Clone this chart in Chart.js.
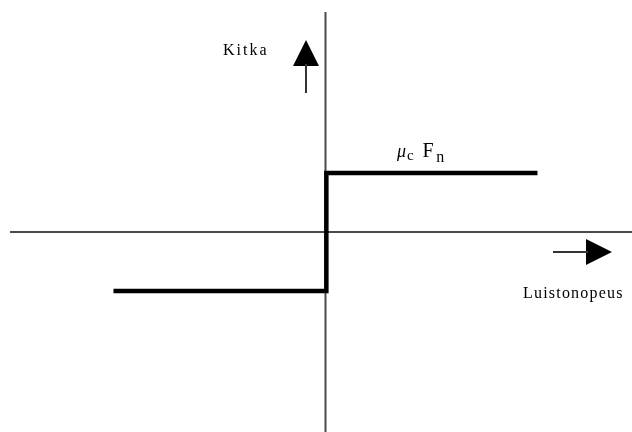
<!DOCTYPE html>
<html>
<head>
<meta charset="utf-8">
<script src="https://cdn.jsdelivr.net/npm/chart.js@4/dist/chart.umd.min.js"></script>
<style>
  html, body { margin: 0; padding: 0; background: #ffffff; }
  #wrap { width: 632px; height: 432px; }
</style>
</head>
<body>
<div id="wrap"><canvas id="c" width="632" height="432"></canvas></div>
<script>
// ---- data (units: x = sliding speed, y = friction; mu_c*F_n = 1) ----
const frictionX = [-1, 0.004, 0.004, 1];
const frictionY = [-1, -1, 1, 1];
const xAxisX = [-1.488, 1.446];
const xAxisY = [0, 0];
const yAxisX = [0, 0];
const yAxisY = [3.73, -3.39];
const upShaftX = [-0.092, -0.092];
const upShaftY = [2.356, 2.85];
const upHeadX = [-0.092];
const upHeadY = [3.034];
const rightShaftX = [1.073, 1.24];
const rightShaftY = [-0.339, -0.339];
const rightHeadX = [1.290];
const rightHeadY = [-0.339];
const labelY = 'Kitka';
const labelX = 'Luistonopeus';
const labelLevel = ['\u03BC', 'c', 'F', 'n'];

const xMin = -1.5354, xMax = 1.4458, yMin = -3.39, yMax = 3.932;

function pts(xs, ys) { return xs.map((x, i) => ({ x: x, y: ys[i] })); }

// arrow head image used as point style
function headImage() {
  const c = document.createElement('canvas');
  c.width = 26; c.height = 26;
  const g = c.getContext('2d');
  g.fillStyle = '#000';
  g.beginPath();
  g.moveTo(13, 0); g.lineTo(26, 26); g.lineTo(0, 26); g.closePath();
  g.fill();
  return c;
}
const head = headImage();

const labelPlugin = {
  id: 'labels',
  afterDatasetsDraw(chart) {
    const ctx = chart.ctx;
    const xs = chart.scales.x, ys = chart.scales.y;
    ctx.save();
    ctx.fillStyle = '#000';
    ctx.textBaseline = 'alphabetic';
    ctx.textAlign = 'left';
    if ('letterSpacing' in ctx) ctx.letterSpacing = '1.2px';
    ctx.font = '16px "Liberation Serif", "Times New Roman", serif';
    if ('letterSpacing' in ctx) ctx.letterSpacing = '2px';
    ctx.fillText(labelY, xs.getPixelForValue(-0.4835), ys.getPixelForValue(3.0));
    if ('letterSpacing' in ctx) ctx.letterSpacing = '1.2px';
    ctx.fillText(labelX, xs.getPixelForValue(0.9316), ys.getPixelForValue(-1.119));
    if ('letterSpacing' in ctx) ctx.letterSpacing = '0px';
    // mu_c F_n
    ctx.font = 'italic 18px "Liberation Serif", "Times New Roman", serif';
    ctx.fillText(labelLevel[0], xs.getPixelForValue(0.337), ys.getPixelForValue(1.271));
    ctx.font = '15px "Liberation Serif", "Times New Roman", serif';
    ctx.fillText(labelLevel[1], xs.getPixelForValue(0.384), ys.getPixelForValue(1.22));
    ctx.font = '20px "Liberation Serif", "Times New Roman", serif';
    ctx.fillText(labelLevel[2], xs.getPixelForValue(0.458), ys.getPixelForValue(1.271));
    ctx.font = '16px "Liberation Serif", "Times New Roman", serif';
    ctx.fillText(labelLevel[3], xs.getPixelForValue(0.522), ys.getPixelForValue(1.186));
    ctx.restore();
  }
};

const axisStyle = { borderColor: '#4a4a4a', borderWidth: 2, pointRadius: 0, showLine: true, clip: false };
const shaftStyle = { borderColor: '#333333', borderWidth: 2, pointRadius: 0, showLine: true, clip: false };

new Chart(document.getElementById('c'), {
  type: 'scatter',
  data: {
    datasets: [
      // first dataset is drawn on top
      { data: pts(frictionX, frictionY), borderColor: '#000000', borderWidth: 4.5, pointRadius: 0,
        showLine: true, borderJoinStyle: 'miter', borderCapStyle: 'butt', clip: false },
      Object.assign({ data: pts(xAxisX, xAxisY) }, axisStyle),
      Object.assign({ data: pts(yAxisX, yAxisY) }, axisStyle),
      Object.assign({ data: pts(upShaftX, upShaftY) }, shaftStyle),
      Object.assign({ data: pts(rightShaftX, rightShaftY) }, shaftStyle),
      { data: pts(upHeadX, upHeadY), pointStyle: head, pointRotation: 0, pointRadius: 13, showLine: false, clip: false },
      { data: pts(rightHeadX, rightHeadY), pointStyle: head, pointRotation: 90, pointRadius: 13, showLine: false, clip: false }
    ]
  },
  options: {
    responsive: false,
    animation: false,
    devicePixelRatio: 1,
    layout: { padding: 0, autoPadding: false },
    plugins: { legend: { display: false }, tooltip: { enabled: false } },
    events: [],
    scales: {
      x: { type: 'linear', min: xMin, max: xMax, display: false },
      y: { type: 'linear', min: yMin, max: yMax, display: false }
    }
  },
  plugins: [labelPlugin]
});
</script>
</body>
</html>
